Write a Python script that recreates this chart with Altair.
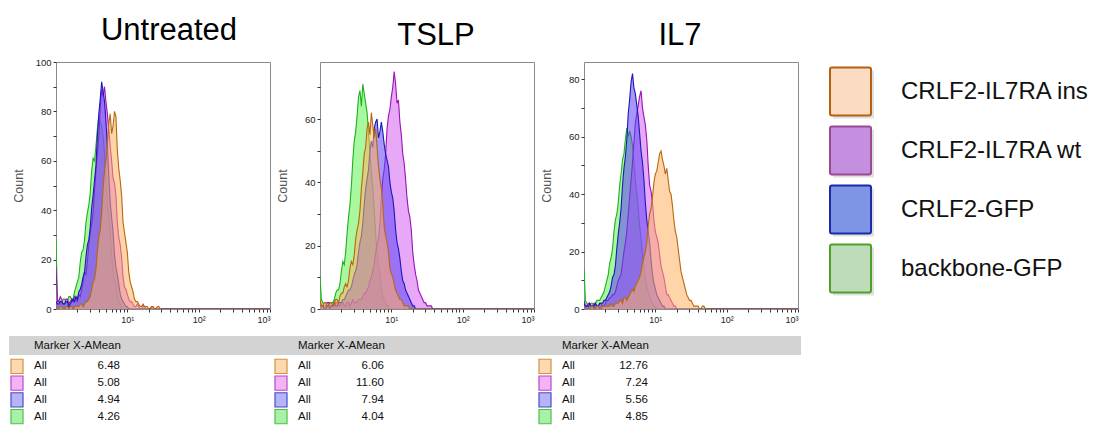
import altair as alt
import pandas as pd

PANELS = ["Untreated", "TSLP", "IL7"]
SERIES = ["CRLF2-IL7RA ins", "CRLF2-IL7RA wt", "CRLF2-GFP", "backbone-GFP"]

# Histogram counts; bin k starts at 10^(k * LOG_BIN_STEP)
LOG_BIN_STEP = 0.02
X_DOMAIN = [1, 1000]

untreated_ins = [1, 0, 0, 1, 1, 0, 0, 1, 1, 0, 1, 1, 0, 1, 1, 1, 1, 2, 2, 1,
                 2, 3, 3, 4, 5, 8, 11, 12, 16, 23, 29, 32, 39, 49, 56, 60, 67, 75, 79, 71,
                 74, 80, 78, 64, 57, 52, 46, 35, 31, 27, 23, 15, 11, 9, 7, 4, 3, 3, 2, 1,
                 1, 2, 1, 1, 1, 0, 0, 1, 1, 0, 0, 1, 1, 0]
untreated_wt = [17, 3, 3, 5, 4, 2, 2, 4, 4, 2, 3, 4, 3, 5, 4, 3, 6, 5, 8, 11,
                15, 14, 19, 26, 31, 34, 39, 48, 56, 63, 70, 81, 89, 86, 90, 84, 79, 73, 66, 60,
                53, 51, 46, 35, 29, 26, 21, 13, 9, 8, 6, 4, 3, 3, 2, 1, 1, 2, 1, 0,
                0, 1, 1, 0, 0, 0, 0, 1, 1, 0]
untreated_crlf2 = [3, 2, 2, 3, 3, 2, 2, 3, 3, 1, 2, 3, 4, 3, 5, 4, 7, 8, 10, 13,
                   15, 21, 26, 28, 33, 41, 46, 52, 58, 70, 79, 85, 92, 88, 84, 76, 66, 54, 43, 37,
                   31, 22, 17, 14, 10, 6, 4, 3, 2, 1, 1, 0]
untreated_backbone = [28, 4, 3, 2, 2, 4, 4, 3, 3, 5, 5, 4, 4, 7, 9, 11, 13, 19, 23, 24,
                      28, 35, 39, 42, 47, 56, 61, 60, 66, 73, 78, 76, 74, 70, 63, 52, 42, 38, 31, 22,
                      16, 12, 9, 5, 3, 2, 1, 0]

tslp_ins = [3, 1, 1, 2, 2, 1, 1, 2, 2, 1, 2, 3, 3, 2, 4, 5, 5, 7, 8, 7,
            9, 13, 15, 14, 17, 22, 25, 27, 31, 38, 43, 49, 51, 57, 59, 55, 62, 58, 54, 57,
            51, 45, 41, 38, 33, 26, 23, 21, 18, 13, 11, 10, 8, 6, 5, 4, 3, 3, 2, 1,
            1, 1, 1, 0]
tslp_wt = [2, 1, 1, 0, 1, 2, 2, 1, 1, 1, 1, 2, 2, 1, 1, 2, 2, 1, 1, 2,
           2, 1, 2, 3, 2, 2, 2, 3, 3, 3, 4, 5, 5, 6, 7, 9, 10, 12, 14, 18,
           20, 22, 27, 35, 41, 44, 49, 57, 61, 63, 67, 70, 75, 71, 65, 66, 59, 55, 49, 46,
           41, 35, 31, 29, 25, 18, 14, 11, 9, 6, 5, 4, 3, 2, 2, 1, 1, 1, 1, 0]
tslp_crlf2 = [1, 1, 1, 0, 0, 1, 1, 0, 1, 1, 2, 1, 1, 2, 2, 2, 3, 3, 4, 5,
              6, 6, 7, 9, 11, 12, 14, 18, 21, 23, 27, 33, 38, 41, 44, 50, 53, 51, 57, 59,
              60, 54, 56, 59, 56, 52, 49, 47, 45, 40, 37, 35, 31, 25, 21, 19, 16, 12, 9, 8,
              6, 5, 4, 3, 2, 1, 1, 0]
tslp_backbone = [10, 3, 2, 1, 1, 0, 1, 2, 2, 2, 3, 5, 6, 6, 8, 12, 15, 14, 18, 24,
                 29, 33, 39, 47, 53, 56, 61, 67, 69, 64, 71, 68, 65, 62, 56, 49, 43, 38, 31, 24,
                 17, 14, 11, 7, 4, 3, 2, 1, 1, 0]

il7_ins = [1, 0, 0, 0, 0, 1, 1, 0, 0, 1, 1, 0, 0, 1, 1, 1, 1, 1, 1, 2,
           1, 1, 2, 2, 2, 3, 3, 2, 4, 4, 3, 4, 5, 6, 7, 6, 8, 9, 10, 11,
           13, 16, 18, 20, 23, 29, 33, 35, 39, 44, 47, 48, 51, 54, 55, 52, 50, 47, 49, 45,
           41, 40, 36, 31, 27, 25, 21, 17, 13, 11, 9, 7, 5, 4, 3, 3, 2, 1, 1, 1,
           1, 0, 0, 1, 1, 0]
il7_wt = [3, 1, 1, 2, 2, 1, 1, 2, 2, 1, 1, 2, 2, 1, 1, 2, 3, 3, 4, 4,
          5, 5, 6, 8, 10, 11, 12, 16, 20, 23, 27, 33, 39, 45, 51, 58, 65, 68, 71, 74,
          76, 70, 67, 64, 59, 50, 43, 41, 37, 31, 27, 25, 23, 19, 15, 13, 11, 8, 5, 5,
          4, 3, 2, 1, 1, 0]
il7_crlf2 = [2, 1, 1, 1, 2, 1, 1, 1, 2, 1, 1, 2, 2, 2, 3, 3, 4, 5, 6, 8,
             11, 12, 15, 21, 26, 30, 35, 43, 49, 53, 59, 68, 73, 79, 82, 77, 75, 71, 67, 61,
             55, 51, 45, 37, 31, 27, 23, 17, 12, 9, 7, 5, 4, 3, 2, 1, 1, 0]
il7_backbone = [14, 3, 2, 1, 1, 2, 2, 1, 2, 3, 3, 3, 4, 5, 6, 8, 10, 12, 16, 18,
                21, 27, 31, 33, 37, 43, 47, 52, 54, 59, 63, 60, 62, 60, 57, 51, 45, 40, 35, 29,
                24, 19, 15, 11, 8, 6, 4, 3, 2, 1, 1, 0]

HISTOGRAMS = [
    [untreated_ins, untreated_wt, untreated_crlf2, untreated_backbone],
    [tslp_ins, tslp_wt, tslp_crlf2, tslp_backbone],
    [il7_ins, il7_wt, il7_crlf2, il7_backbone],
]
Y_MAX = [100, 78, 86]

# Marker X-A mean per sample
MEAN_UNTREATED = ["6.48", "5.08", "4.94", "4.26"]
MEAN_TSLP = ["6.06", "11.60", "7.94", "4.04"]
MEAN_IL7 = ["12.76", "7.24", "5.56", "4.85"]
MEANS = [MEAN_UNTREATED, MEAN_TSLP, MEAN_IL7]

X_TICKS = [2, 3, 4, 5, 6, 7, 8, 9, 10, 20, 30, 40, 50, 60, 70, 80, 90, 100,
           200, 300, 400, 500, 600, 700, 800, 900, 1000]
X_LABELS = {10: "10¹", 100: "10²", 1000: "10³"}

LINE_COLORS = ["#b8680c", "#9b12b5", "#1a1ab4", "#1fb01f"]
FILL_COLORS = ["#ffb060", "#d561f2", "#5f42f8", "#61f252"]
LEGEND_FILL = ["#fbdcc2", "#c58fe0", "#7e95e6", "#bedcb8"]
LEGEND_STROKE = ["#b4600e", "#9a4a90", "#1c2aa6", "#4ea02a"]
TABLE_FILL = ["#fdd9b0", "#f2b4f4", "#b4b4f6", "#a8f2a8"]
TABLE_STROKE = ["#d49040", "#b848c8", "#4a4ac8", "#4cc04c"]
TITLE_DX = [6, 9, -11]
# drawing order, bottom to top: backbone, wt, CRLF2, ins
DRAW_ORDER = [3, 1, 2, 0]

SANS = "Liberation Sans, Arial, sans-serif"

rows = []
for p, panel in enumerate(PANELS):
    for s, series in enumerate(SERIES):
        counts = HISTOGRAMS[p][s]
        for k, c in enumerate(counts):
            rows.append({"panel": panel, "series": series,
                         "x": 10 ** (k * LOG_BIN_STEP), "count": c})
        rows.append({"panel": panel, "series": series, "x": X_DOMAIN[1], "count": 0})
hist = pd.DataFrame(rows)

label_expr = " : ".join(f"datum.value == {v} ? '{t}'" for v, t in X_LABELS.items()) + " : ''"


def histogram_panel(p):
    name = PANELS[p]
    data = hist[hist.panel == name]
    x = alt.X("x:Q", title=None,
              scale=alt.Scale(type="log", domain=X_DOMAIN, nice=False),
              axis=alt.Axis(values=X_TICKS, labelExpr=label_expr, tickSize=3,
                            tickColor="#333", labelFont=SANS, labelFontSize=9,
                            labelColor="#222", labelPadding=3, labelOverlap=False,
                            domain=False, grid=False))
    y = alt.Y("count:Q", title="Count",
              scale=alt.Scale(domain=[0, Y_MAX[p]], nice=False),
              axis=alt.Axis(values=list(range(0, Y_MAX[p] + 1, 10)),
                            labelExpr="datum.value % 20 == 0 ? datum.label : ''",
                            tickSize=3, tickColor="#333", labelFont=SANS,
                            labelFontSize=9.5, labelColor="#222", labelPadding=2,
                            labelOverlap=False, domain=False, grid=False,
                            titleFont=SANS, titleFontSize=12.5,
                            titleFontWeight="normal", titleColor="#555",
                            titleX=-38, titleY=123.5, titleAngle=270,
                            titleAlign="center", titleBaseline="middle"))
    layers = []
    for s in DRAW_ORDER:
        base = alt.Chart(data).transform_filter(
            alt.datum.series == SERIES[s]).encode(x=x, y=y)
        layers.append(base.mark_area(interpolate="linear", clip=True,
                                     color=FILL_COLORS[s], opacity=0.55))
        layers.append(base.mark_line(interpolate="linear", clip=True,
                                     color=LINE_COLORS[s], strokeWidth=1.1))
    return alt.layer(*layers).properties(
        width=214, height=247,
        view=alt.ViewBackground(stroke="#8a8a8a", strokeWidth=1),
        title=alt.TitleParams(text=name, font=SANS, fontSize=31,
                              fontWeight="normal", color="#000", anchor="middle",
                              baseline="alphabetic", offset=20, dy=34,
                              dx=TITLE_DX[p]))


def stats_table(p):
    tdf = pd.DataFrame({"series": SERIES, "gate": ["All"] * 4, "mean": MEANS[p],
                        "fill": TABLE_FILL, "stroke": TABLE_STROKE})
    hdf = pd.DataFrame({"label": ["Marker X-AMean"]})
    ty = alt.Y("series:N", sort=SERIES, axis=None,
               scale=alt.Scale(paddingInner=0.15, paddingOuter=0.075))
    bar = alt.Chart(hdf).mark_rect(color="#d3d3d3").encode(
        x=alt.value(-47), x2=alt.value(217), y=alt.value(-22), y2=alt.value(-3))
    head = alt.Chart(hdf).mark_text(align="left", baseline="middle", font=SANS,
                                    fontSize=11.5, color="#111").encode(
        x=alt.value(-22), y=alt.value(-12.5), text="label:N")
    swatch = alt.Chart(tdf).mark_rect(strokeWidth=1.2).encode(
        x=alt.value(-45), x2=alt.value(-33), y=ty,
        fill=alt.Fill("fill:N", scale=None), stroke=alt.Stroke("stroke:N", scale=None))
    gate = alt.Chart(tdf).mark_text(align="left", baseline="middle", font=SANS,
                                    fontSize=11.5, color="#111").encode(
        x=alt.value(-22), y=ty, text="gate:N")
    mean = alt.Chart(tdf).mark_text(align="right", baseline="middle", font=SANS,
                                    fontSize=11.5, color="#111").encode(
        x=alt.value(64), y=ty, text="mean:N")
    return alt.layer(bar, head, swatch, gate, mean).properties(width=214, height=67)


legend_df = pd.DataFrame({"series": SERIES, "fill": LEGEND_FILL, "stroke": LEGEND_STROKE})
ly = alt.Y("series:N", sort=SERIES, axis=None,
           scale=alt.Scale(paddingInner=0.19, paddingOuter=0.095))
shadow = alt.Chart(legend_df).mark_rect(color="#000", opacity=0.12, yOffset=3).encode(
    x=alt.value(-15), x2=alt.value(26), y=ly)
swatches = alt.Chart(legend_df).mark_rect(strokeWidth=2, cornerRadius=2).encode(
    x=alt.value(-18), x2=alt.value(23), y=ly,
    fill=alt.Fill("fill:N", scale=None), stroke=alt.Stroke("stroke:N", scale=None))
names = alt.Chart(legend_df).mark_text(align="left", baseline="middle",
                                       font=SANS, fontSize=24,
                                       color="#111").encode(
    x=alt.value(53), y=ly, text="series:N")
legend = alt.layer(shadow, swatches, names).properties(width=40, height=236)

top = alt.hconcat(histogram_panel(0), histogram_panel(1), histogram_panel(2), legend,
                  spacing=50, bounds="flush")
bottom = alt.hconcat(stats_table(0), stats_table(1), stats_table(2),
                     spacing=50, bounds="flush")

chart = alt.vconcat(top, bottom, spacing=10, bounds="full").properties(
    padding={"left": 8, "top": 14, "right": 0, "bottom": 0},
    background="white",
).configure_view(stroke="transparent")

chart.save("out.html", embed_options={"renderer": "svg", "actions": False})
